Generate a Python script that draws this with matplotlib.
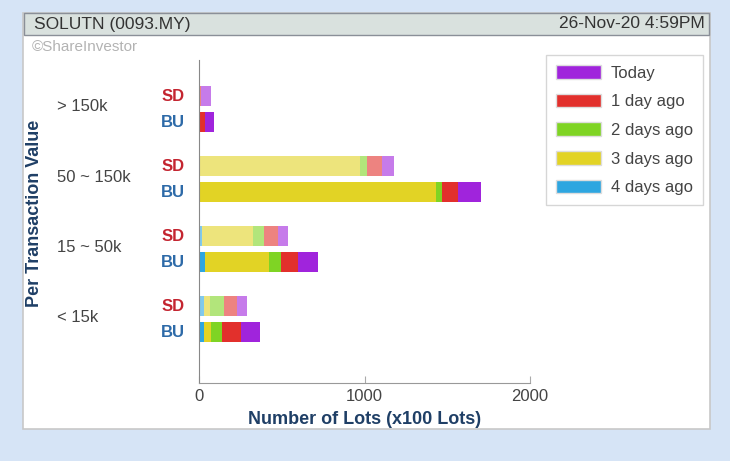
import matplotlib
matplotlib.use("Agg")
import matplotlib.pyplot as plt
from matplotlib.patches import Rectangle, Patch
import numpy as np

plt.rcParams['font.family'] = ['Liberation Sans', 'DejaVu Sans']

categories = ["> 150k", "50 ~ 150k", "15 ~ 50k", "< 15k"]
series_names = ["4 days ago", "3 days ago", "2 days ago", "1 day ago", "Today"]
colors = ["#2ea6e0", "#e2d325", "#7fd424", "#e2302c", "#a024dc"]
# values per series for each category (SD = sold down, BU = bought up)
sd_4d = [0, 0, 20, 30]
sd_3d = [0, 970, 305, 35]
sd_2d = [0, 48, 65, 85]
sd_1d = [10, 85, 85, 78]
sd_today = [60, 78, 65, 65]
bu_4d = [0, 5, 35, 30]
bu_3d = [0, 1425, 385, 40]
bu_2d = [0, 40, 78, 70]
bu_1d = [35, 95, 100, 115]
bu_today = [55, 140, 120, 115]
x_ticks = [0, 1000, 2000]

W, H = 730, 461
fig = plt.figure(figsize=(W/100, H/100), dpi=100)
fig.patch.set_facecolor("#d6e4f6")

def fx(px): return px / W
def fy(py): return 1 - py / H

# white panel
fig.patches.append(Rectangle((fx(23), fy(429)), fx(710) - fx(23), fy(13) - fy(429),
                             transform=fig.transFigure, facecolor="white",
                             edgecolor="#c8c8c8", lw=1.2, zorder=-2))
# title bar
fig.patches.append(Rectangle((fx(24), fy(35)), fx(709) - fx(24), fy(13) - fy(35),
                             transform=fig.transFigure, facecolor="#d9e1de",
                             edgecolor="#8a8f98", lw=1, zorder=-1))
fig.text(fx(34), fy(24), "SOLUTN (0093.MY)", fontsize=12.5, color="#333333",
         va="center", ha="left")
fig.text(fx(705), fy(24), "26-Nov-20 4:59PM", fontsize=12.5, color="#333333",
         va="center", ha="right")
fig.text(fx(32), fy(47), "©ShareInvestor", fontsize=11, color="#b3b3b3",
         va="center", ha="left")

ax = fig.add_axes([fx(199), fy(383), fx(530) - fx(199), fy(60) - fy(383)])
ax.set_facecolor("none")
ax.set_xlim(0, 2000)
ax.set_ylim(3.91, -0.7)

sd_series = [sd_4d, sd_3d, sd_2d, sd_1d, sd_today]
bu_series = [bu_4d, bu_3d, bu_2d, bu_1d, bu_today]
pos = np.arange(len(categories))
off = 0.185
h = 0.29
left_sd = np.zeros(len(categories))
left_bu = np.zeros(len(categories))
for i in range(5):
    ax.barh(pos - off, sd_series[i], left=left_sd, height=h, color=colors[i],
            alpha=0.6, edgecolor="none")
    ax.barh(pos + off, bu_series[i], left=left_bu, height=h, color=colors[i],
            edgecolor="none")
    left_sd += np.array(sd_series[i])
    left_bu += np.array(bu_series[i])

for s in ["top", "right"]:
    ax.spines[s].set_visible(False)
ax.spines["left"].set_color("#888888")
ax.spines["bottom"].set_color("#999999")
ax.set_yticks([])
ax.set_xticks(x_ticks)
ax.tick_params(axis="x", direction="in", length=5, color="#aaaaaa",
               labelsize=12, labelcolor="#444444", pad=4)
ax.set_xlabel("Number of Lots (x100 Lots)", fontsize=13, fontweight="bold",
              color="#1f3f66", labelpad=5)

trans = ax.get_yaxis_transform()
axw = 331.0
for i, c in enumerate(categories):
    ax.text((57 - 199) / axw, i - 0.03, c, transform=trans, fontsize=12,
            color="#444444", va="center", ha="left")
    ax.text(-26 / axw, i - off, "SD", transform=trans, fontsize=12,
            fontweight="bold", color="#c42530", va="center", ha="center")
    ax.text(-26 / axw, i + off, "BU", transform=trans, fontsize=12,
            fontweight="bold", color="#2d6aa8", va="center", ha="center")

fig.text(fx(35), fy(213), "Per Transaction Value", rotation=90, fontsize=13,
         fontweight="bold", color="#1f3f66", va="center", ha="center")

handles = [Patch(facecolor=colors[i], edgecolor="#dddddd", label=series_names[i])
           for i in [4, 3, 2, 1, 0]]
leg = fig.legend(handles=handles, loc="upper left",
                 bbox_to_anchor=(fx(546), fy(55)), fontsize=12,
                 frameon=True, fancybox=False, edgecolor="#cccccc",
                 handlelength=2.7, handleheight=0.9, labelspacing=0.78,
                 handletextpad=0.6, borderpad=0.6, borderaxespad=0)
leg.get_frame().set_linewidth(1.0)
for t in leg.get_texts():
    t.set_color("#444444")

fig.savefig("out.png", dpi=100, facecolor=fig.get_facecolor())
